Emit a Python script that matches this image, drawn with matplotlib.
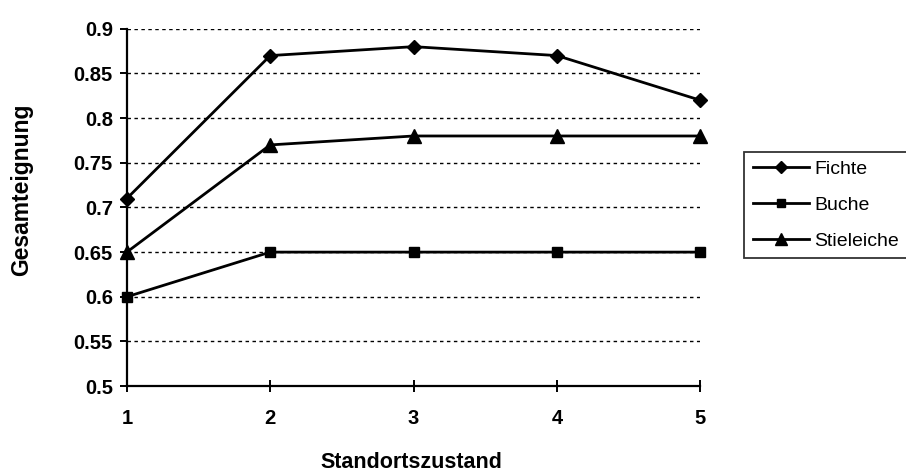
import matplotlib
matplotlib.use("Agg")
import matplotlib.pyplot as plt

zustand = [1, 2, 3, 4, 5]
fichte = [0.71, 0.87, 0.88, 0.87, 0.82]
buche = [0.60, 0.65, 0.65, 0.65, 0.65]
stieleiche = [0.65, 0.77, 0.78, 0.78, 0.78]
y_ticks = [0.5, 0.55, 0.6, 0.65, 0.7, 0.75, 0.8, 0.85, 0.9]
y_tick_labels = ["0.5", "0.55", "0.6", "0.65", "0.7", "0.75", "0.8", "0.85", "0.9"]

plt.rcParams["font.family"] = ["Liberation Sans", "DejaVu Sans"]

fig = plt.figure(figsize=(9.06, 4.72), dpi=100)
ax = fig.add_axes([0.140, 0.182, 0.633, 0.757])

ax.plot(zustand, fichte, color="black", lw=2.0, marker="D", ms=7.5, label="Fichte", clip_on=False, zorder=3)
ax.plot(zustand, buche, color="black", lw=2.0, marker="s", ms=7, label="Buche", clip_on=False, zorder=3)
ax.plot(zustand, stieleiche, color="black", lw=2.0, marker="^", ms=10, label="Stieleiche", clip_on=False, zorder=3)

ax.set_xlim(1, 5)
ax.set_ylim(0.5, 0.9)
ax.set_xticks(zustand)
ax.set_yticks(y_ticks)
ax.set_yticklabels(y_tick_labels)

for y in y_ticks[1:]:
    ax.axhline(y, color="black", lw=1.0, ls=(0, (2.5, 2.5)), zorder=1)

for s in ["top", "right"]:
    ax.spines[s].set_visible(False)
for s in ["left", "bottom"]:
    ax.spines[s].set_linewidth(1.6)

ax.tick_params(axis="y", direction="out", length=5, width=1.4, labelsize=14.5, pad=5)
ax.tick_params(axis="x", direction="inout", length=9, width=1.4, labelsize=14.5, pad=12)
for lab in ax.get_xticklabels() + ax.get_yticklabels():
    lab.set_fontweight("bold")

ax.set_ylabel("Gesamteignung", fontsize=16.5, fontweight="bold", va="center")
ax.yaxis.set_label_coords(-0.183, 0.549)
ax.set_xlabel("Standortszustand", fontsize=15.5, fontweight="bold", va="center")
ax.xaxis.set_label_coords(0.496, -0.214)

leg = ax.legend(loc="upper left", bbox_to_anchor=(1.077, 0.655), frameon=True,
                fancybox=False, edgecolor="black", fontsize=14, handlelength=2.9,
                handletextpad=0.25, borderpad=0.42, labelspacing=0.95,
                borderaxespad=0, markerscale=0.8)
leg.get_frame().set_linewidth(1.3)

fig.savefig("out.png", dpi=100)
